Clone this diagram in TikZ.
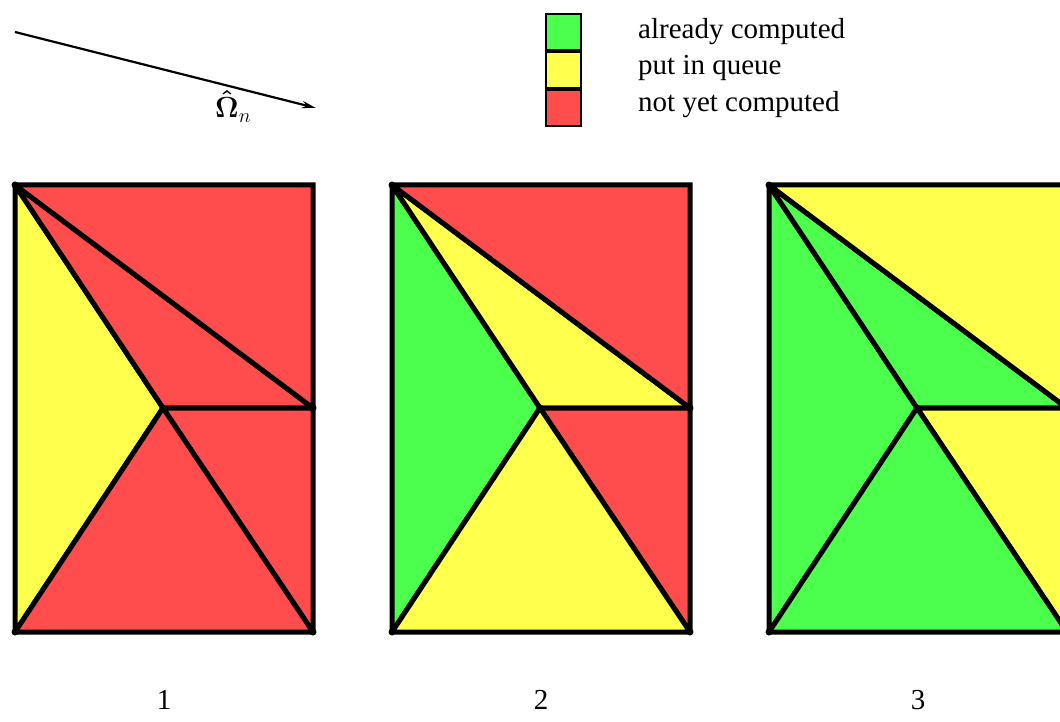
\documentclass[tikz,border=0pt]{standalone}
\usepackage{amsmath}
\usepackage{fontspec}
\setmainfont{Liberation Serif}
\usetikzlibrary{arrows.meta}
\definecolor{cgreen}{RGB}{77,255,77}
\definecolor{cyellow}{RGB}{255,255,77}
\definecolor{cred}{RGB}{255,77,77}
\tikzset{
  tri/.style={line width=5pt, line join=miter, miter limit=1.5, draw=black},
  vdot/.style={fill=black},
  legbox/.style={draw=black, line width=2pt},
  legtext/.style={font=\fontsize{29}{34}\selectfont, anchor=base west, inner sep=0pt},
  numtext/.style={font=\fontsize{29}{34}\selectfont, anchor=base, inner sep=0pt},
}
\newcommand\mypanel[7]{%
  \begin{scope}[xshift=#1]
    \coordinate (#2TL) at (15,185);
    \coordinate (#2TR) at (313,185);
    \coordinate (#2BL) at (15,632);
    \coordinate (#2BR) at (313,632);
    \coordinate (#2C) at (163,408);
    \coordinate (#2R) at (313,408);
  \end{scope}
  \filldraw[tri, fill=#3] (#2TL) -- (#2BL) -- (#2C) -- cycle;
  \filldraw[tri, fill=#4] (#2TL) -- (#2C) -- (#2R) -- cycle;
  \filldraw[tri, fill=#5] (#2TL) -- (#2R) -- (#2TR) -- cycle;
  \filldraw[tri, fill=#6] (#2C) -- (#2R) -- (#2BR) -- cycle;
  \filldraw[tri, fill=#7] (#2BL) -- (#2C) -- (#2BR) -- cycle;
  \foreach \v in {TL,BL,BR,C,R} \fill[vdot] (#2\v) circle (3.5);
}
\begin{document}
\begin{tikzpicture}[x=1pt,y=-1pt]
\useasboundingbox (0,0) rectangle (1060,722);
\clip (0,0) rectangle (1060,722);
% direction arrow
\coordinate (a0) at (15,32);
\coordinate (a1) at (316,108);
\draw[line width=2.2pt, -{Stealth[length=14pt,width=7pt]}] (a0) -- (a1);
\node[font=\fontsize{20}{24}\selectfont, anchor=base west, inner sep=0pt] (omega) at (215,118) {\scalebox{1.4}{$\boldsymbol{\hat\Omega}_n$}};
% legend
\node[legbox, fill=cgreen, minimum width=35pt, minimum height=36pt, inner sep=0pt, anchor=north west] (lg) at (545,13) {};
\node[legbox, fill=cyellow, minimum width=35pt, minimum height=36pt, inner sep=0pt, anchor=north] (ly) at (lg.south) {};
\node[legbox, fill=cred, minimum width=35pt, minimum height=36pt, inner sep=0pt, anchor=north] (lr) at (ly.south) {};
\node[legtext] (tg) at (638,39) {already computed};
\node[legtext] (ty) at (638,75) {put in queue};
\node[legtext] (tr) at (638,112) {not yet computed};
% panels
\mypanel{0}{a}{cyellow}{cred}{cred}{cred}{cred}
\mypanel{377}{b}{cgreen}{cyellow}{cred}{cred}{cyellow}
\mypanel{754}{c}{cgreen}{cgreen}{cyellow}{cyellow}{cgreen}
% labels
\node[numtext] (n1) at (164,709) {1};
\node[numtext] (n2) at (541,709) {2};
\node[numtext] (n3) at (918,709) {3};
\end{tikzpicture}
\end{document}
